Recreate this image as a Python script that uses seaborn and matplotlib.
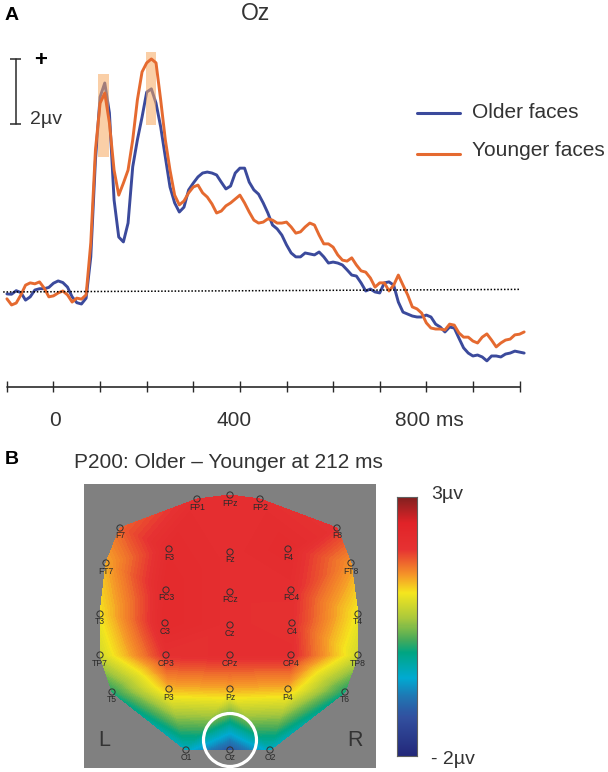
import numpy as np
import pandas as pd
import matplotlib
matplotlib.use("Agg")
import matplotlib.pyplot as plt
import matplotlib.tri as mtri
from matplotlib.colors import LinearSegmentedColormap
from matplotlib.patches import Ellipse
import seaborn as sns

# ERP data (ms, microvolts)
times = np.arange(-100, 1020, 10)

older_faces = [
    -0.09, -0.10, 0.01, -0.05, -0.28, -0.18, 0.03, 0.07, 0.07, 0.11,
    0.24, 0.31, 0.26, 0.12, -0.18, -0.36, -0.40, -0.22, 1.05, 4.03,
    5.97, 6.40, 5.48, 2.80, 1.66, 1.51, 2.09, 3.82, 4.65, 5.35,
    6.12, 6.22, 5.78, 5.05, 4.12, 3.20, 2.71, 2.43, 2.58, 3.11,
    3.32, 3.51, 3.63, 3.66, 3.63, 3.57, 3.35, 3.14, 3.23, 3.63,
    3.78, 3.78, 3.35, 3.11, 2.98, 2.71, 2.40, 2.03, 1.91, 1.72,
    1.42, 1.17, 1.05, 1.05, 1.17, 1.14, 1.11, 1.20, 1.05, 0.86,
    0.89, 0.86, 0.80, 0.65, 0.49, 0.46, 0.25, 0.00, 0.06, -0.03,
    -0.06, 0.25, 0.28, 0.18, -0.34, -0.65, -0.71, -0.77, -0.80, -0.80,
    -0.74, -0.80, -1.02, -1.11, -1.26, -1.11, -1.14, -1.45, -1.75, -1.91,
    -2.00, -1.97, -2.03, -2.15, -2.00, -2.00, -2.03, -1.94, -1.91, -1.85, -1.88, -1.91,
]

younger_faces = [
    -0.24, -0.43, -0.37, -0.12, 0.18, 0.25, 0.22, 0.28, 0.09, -0.18,
    -0.15, -0.06, 0.00, -0.12, -0.34, -0.22, -0.25, -0.12, 1.48, 4.34,
    5.78, 6.09, 5.17, 3.72, 2.95, 3.32, 3.72, 4.65, 5.88, 6.74,
    7.02, 7.14, 7.02, 5.88, 4.65, 3.72, 2.95, 2.65, 2.77, 3.02,
    3.20, 3.26, 3.02, 2.89, 2.68, 2.40, 2.46, 2.62, 2.71, 2.83,
    2.95, 2.71, 2.43, 2.18, 2.09, 2.12, 2.22, 2.18, 2.09, 2.09,
    2.12, 1.97, 1.78, 1.82, 1.97, 2.09, 2.03, 1.72, 1.45, 1.45,
    1.35, 1.11, 0.95, 0.92, 1.02, 0.80, 0.62, 0.58, 0.40, 0.12,
    0.25, 0.25, 0.00, 0.18, 0.49, 0.18, -0.12, -0.49, -0.55, -0.68,
    -0.98, -1.14, -1.17, -1.17, -1.20, -1.02, -1.05, -1.29, -1.42, -1.42,
    -1.54, -1.60, -1.42, -1.32, -1.51, -1.72, -1.60, -1.51, -1.48, -1.35, -1.33, -1.26,
]

baseline_t = [-108, 1000]
baseline_v = [-0.03, 0.05]
axis_ticks = [-100, 0, 100, 200, 300, 400, 500, 600, 700, 800, 900, 1000]

# highlighted P100 and P200 windows
window_t0 = [96, 198]
window_t1 = [119, 220]
window_v0 = [4.12, 5.11]
window_v1 = [6.67, 7.36]

# Scalp map data
electrodes = ["FP1", "FPz", "FP2", "F7", "F8", "F3", "Fz", "F4", "FT7", "FT8", "FC3",
              "FCz", "FC4", "T3", "T4", "C3", "Cz", "C4", "TP7", "TP8", "CP3", "CPz",
              "CP4", "T5", "T6", "P3", "Pz", "P4", "O1", "Oz", "O2"]
elec_x = [113, 146, 176, 36, 253, 85, 146, 204, 22, 267, 82,
          146, 207, 16, 274, 81, 146, 208, 16, 274, 82, 146,
          207, 28, 261, 85, 146, 204, 102, 146, 186]
elec_y = [15, 11, 15, 44, 44, 65, 68, 65, 79, 79, 106,
          108, 106, 130, 130, 139, 141, 139, 171, 171, 171, 171,
          171, 208, 208, 205, 205, 205, 266, 266, 266]
elec_uv = [2.1, 2.1, 2.1, 1.75, 2.0, 2.2, 2.1, 2.2, 1.4, 1.5, 2.25,
           2.1, 2.1, 1.15, 1.1, 2.25, 2.1, 2.05, 0.9, 0.9, 2.05, 2.1,
           2.1, 0.1, 0.05, 1.35, 1.4, 1.35, -0.4, -1.25, -0.4]

scale_pos = [0.0, 0.15, 0.23, 0.30, 0.40, 0.45, 0.53, 0.63, 0.70, 0.80, 0.90, 1.0]
scale_colors = ["#23287a", "#32509f", "#1e78b4", "#00aad2", "#00a582", "#46aa5a",
                "#aac83c", "#f5e61e", "#f59628", "#e63232", "#e12328", "#82201f"]

WIDTH, HEIGHT = 608, 772
BLUE = "#3b4a9c"
ORANGE = "#e56a30"
DARK = "#2a2a2a"

sns.set_style("white")
plt.rcParams["font.family"] = ["Liberation Sans", "DejaVu Sans"]

fig = plt.figure(figsize=(WIDTH / 100, HEIGHT / 100), dpi=100)


def px_axes(x0, y0, x1, y1):
    return fig.add_axes([x0 / WIDTH, 1 - y1 / HEIGHT, (x1 - x0) / WIDTH, (y1 - y0) / HEIGHT])


def px_text(x, y, s, size=15, ha="left", weight="normal", color="#333333"):
    fig.text(x / WIDTH, 1 - y / HEIGHT, s, fontsize=size, ha=ha, va="center",
             fontweight=weight, color=color)


# A: waveforms
ax = px_axes(0, 0, WIDTH, 440)
ax.axis("off")

erp = pd.DataFrame({
    "time": np.concatenate([times, times]),
    "uv": older_faces + younger_faces,
    "condition": ["Older faces"] * len(times) + ["Younger faces"] * len(times),
})

# band sits over the blue line but under the orange one
sns.lineplot(data=erp[erp["condition"] == "Older faces"], x="time", y="uv", ax=ax,
             color=BLUE, estimator=None, linewidth=2.1, zorder=2)
sns.lineplot(data=erp[erp["condition"] == "Younger faces"], x="time", y="uv", ax=ax,
             color=ORANGE, estimator=None, linewidth=2.1, zorder=4)
ax.axis("off")
ax.set_xlim((0 - 53.5) / 0.466, (WIDTH - 53.5) / 0.466)
ax.set_ylim(-4.585, 8.954)

for t0, t1, v0, v1 in zip(window_t0, window_t1, window_v0, window_v1):
    ax.fill_between([t0, t1], v0, v1, color="#f6a860", alpha=0.55, lw=0, zorder=3)

ax.plot(baseline_t, baseline_v, color="black", lw=1.1, ls=(0, (1, 1.2)), zorder=5)

# time axis
ax.plot([axis_ticks[0], axis_ticks[-1]], [-2.94, -2.94], color=DARK, lw=1.2)
ax.vlines(axis_ticks, -3.1, -2.78, color=DARK, lw=1.0)

# scale bar
ax.plot([-81, -81], [5.14, 7.14], color=DARK, lw=1.1)
ax.hlines([5.14, 7.14], -93, -70, color=DARK, lw=1.1)

px_text(5, 16, "A", size=14, weight="bold", color="black")
px_text(256, 14, "Oz", size=16.5, ha="center")
px_text(41, 60, "+", size=16, ha="center", weight="bold", color="black")
px_text(30, 119, "2µv", size=14)
px_text(55.5, 420, "0", ha="center")
px_text(234.5, 420, "400", ha="center")
px_text(395, 420, "800 ms")

# legend
fig.add_artist(plt.Line2D([417 / WIDTH, 460 / WIDTH], [1 - 113 / HEIGHT] * 2, color=BLUE, lw=2.2))
fig.add_artist(plt.Line2D([417 / WIDTH, 460 / WIDTH], [1 - 154 / HEIGHT] * 2, color=ORANGE, lw=2.2))
px_text(472, 112, "Older faces")
px_text(472, 150, "Younger faces")

# B: scalp map
px_text(5, 459, "B", size=14, weight="bold", color="black")
px_text(74, 462, "P200: Older – Younger at 212 ms")

cmap = LinearSegmentedColormap.from_list("erp", list(zip(scale_pos, scale_colors)), N=256)

ax_map = px_axes(84, 484, 376, 767.5)
ax_map.set_facecolor("#808080")
tri = mtri.Triangulation(elec_x, elec_y)
ax_map.tricontourf(tri, elec_uv, levels=np.linspace(-2, 3, 121), cmap=cmap, vmin=-2, vmax=3,
                   antialiased=False)
sns.scatterplot(x=elec_x, y=elec_y, ax=ax_map, s=20, facecolors="none", edgecolor="#303030",
                linewidth=0.7, zorder=3, legend=False)
for name, ex, ey in zip(electrodes, elec_x, elec_y):
    ax_map.text(ex, ey + 8, name, fontsize=6.2, ha="center", va="center", color="#2a2a2a", zorder=3)
ax_map.add_patch(Ellipse((146, 256), 53, 53, fill=False, ec="white", lw=2.3, zorder=4))
ax_map.set_xlim(0, 292)
ax_map.set_ylim(283.5, 0)
ax_map.set_xticks([])
ax_map.set_yticks([])
for spine in ax_map.spines.values():
    spine.set_visible(False)

px_text(98, 741, "L", size=15.5)
px_text(347, 741, "R", size=15.5)

# colour scale
ax_bar = px_axes(397, 497, 417, 756)
scale_values = np.linspace(3, -2, 256).reshape(-1, 1)
sns.heatmap(scale_values, ax=ax_bar, cmap=cmap, vmin=-2, vmax=3, cbar=False,
            xticklabels=False, yticklabels=False)
ax_bar.set_yticks(np.linspace(0, 256, 11)[1:-1])
ax_bar.set_yticklabels([])
ax_bar.tick_params(axis="y", which="both", left=True, right=True, direction="in", length=2.5,
                   width=0.9, color="#303030", labelleft=False)
for spine in ax_bar.spines.values():
    spine.set_visible(True)
    spine.set_color("#606060")
    spine.set_linewidth(0.8)

px_text(431, 495, "3µv", size=14)
px_text(431, 759, "- 2µv", size=14)

fig.savefig("out.png", dpi=100)
